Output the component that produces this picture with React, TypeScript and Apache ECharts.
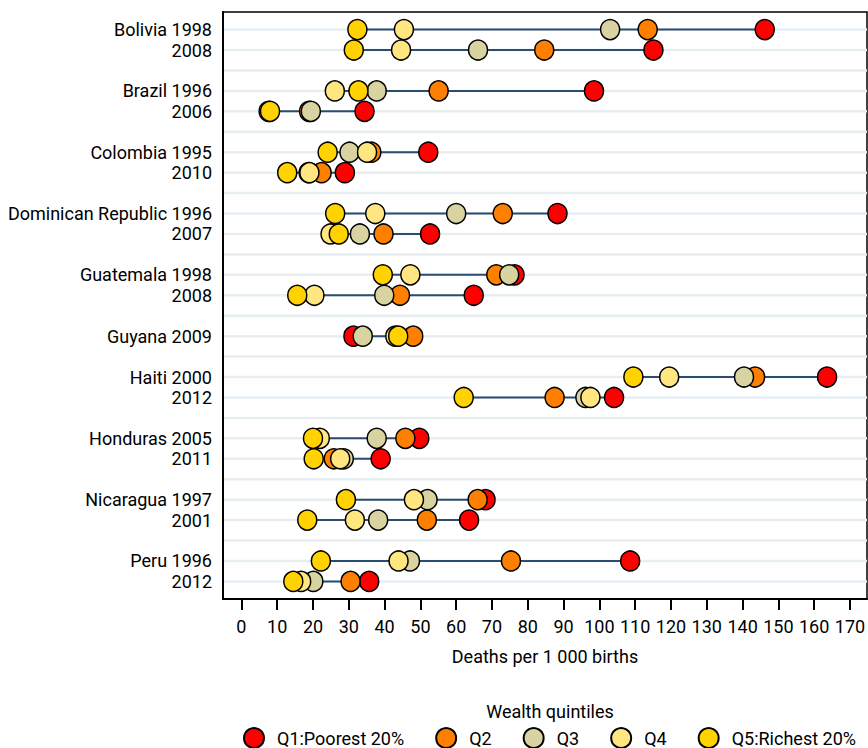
import React, { useEffect, useRef } from "react";
import * as echarts from "echarts";

// Row labels top to bottom; "" marks a spacer row between countries
const rowLabels: string[] = [
  "Bolivia 1998", "2008", "",
  "Brazil 1996", "2006", "",
  "Colombia 1995", "2010", "",
  "Dominican Republic 1996", "2007", "",
  "Guatemala 1998", "2008", "",
  "Guyana 2009", "",
  "Haiti 2000", "2012", "",
  "Honduras 2005", "2011", "",
  "Nicaragua 1997", "2001", "",
  "Peru 1996", "2012",
];

// Deaths per 1 000 births, one value per labelled row (top to bottom)
const q1Poorest = [146.2, 115.1, 98.5, 34.4, 52.2, 28.9, 88.3, 52.7, 76.3, 64.9, 31.3, 163.6, 104.1, 49.7, 38.9, 68.2, 63.6, 108.6, 35.7];
const q2 = [113.5, 84.6, 55.1, 18.9, 36.3, 22.4, 73.0, 39.7, 71.2, 44.3, 48.0, 143.5, 87.5, 45.8, 25.8, 66.0, 51.8, 75.3, 30.5];
const q3 = [103.0, 66.1, 37.8, 19.4, 30.2, 18.8, 60.0, 33.1, 74.8, 39.9, 33.9, 140.4, 96.1, 37.8, 28.6, 52.0, 38.2, 47.1, 20.1];
const q4 = [45.4, 44.6, 26.1, 7.6, 35.1, 19.0, 37.4, 24.9, 47.2, 20.4, 43.0, 119.5, 97.5, 21.9, 27.6, 48.2, 31.7, 43.9, 16.7];
const q5Richest = [32.4, 31.4, 32.7, 8.0, 24.1, 12.8, 26.2, 27.2, 39.5, 15.6, 43.8, 109.5, 62.1, 20.0, 20.2, 29.2, 18.4, 22.2, 14.5];

const seriesNames = ["Q1:Poorest 20%", "Q2", "Q3", "Q4", "Q5:Richest 20%"];
const seriesColors = ["#ff0000", "#ff8000", "#d8d3a0", "#ffe680", "#ffd200"];
const xTicks = [0, 10, 20, 30, 40, 50, 60, 70, 80, 90, 100, 110, 120, 130, 140, 150, 160, 170];

const FONT = "Roboto, 'Liberation Sans', sans-serif";
const FS = 18;

export default function App() {
  const ref = useRef<HTMLDivElement>(null);

  useEffect(() => {
    if (!ref.current) return;
    const chart = echarts.init(ref.current, undefined, { renderer: "svg" });

    const rowPositions: number[] = [];
    rowLabels.forEach((l, i) => {
      if (l !== "") rowPositions.push(i);
    });
    const allSeries = [q1Poorest, q2, q3, q4, q5Richest];

    const rangeData = rowPositions.map((pos, i) => {
      const vals = allSeries.map((s) => s[i]);
      return [Math.min(...vals), Math.max(...vals), pos];
    });
    const gridData = rowLabels.map((_, i) => [0, i]);

    const scatterSeries = allSeries.map((vals, k) => ({
      type: "scatter",
      name: seriesNames[k],
      z: 10 + k,
      symbol: "circle",
      symbolSize: [19, 20],
      itemStyle: {
        color: seriesColors[k],
        borderColor: "#000",
        borderWidth: 1.5,
        opacity: 1,
      },
      emphasis: { disabled: true },
      data: rowPositions.map((pos, i) => [vals[i], pos]),
    }));

    chart.setOption({
      animation: false,
      textStyle: { fontFamily: FONT },
      grid: {
        left: 223,
        right: 1,
        top: 12,
        bottom: 149,
        show: true,
        borderColor: "#000",
        borderWidth: 1.5,
        backgroundColor: "transparent",
        outerBoundsMode: "none",
        containLabel: false,
      },
      xAxis: {
        type: "value",
        min: -5.14,
        max: 174.76,
        name: "Deaths per 1 000 births",
        nameLocation: "middle",
        nameGap: 48,
        nameTextStyle: { fontFamily: FONT, fontSize: FS, color: "#000" },
        axisLine: { show: true, onZero: false, lineStyle: { color: "#000", width: 2 } },
        axisTick: { show: true, length: 11, lineStyle: { color: "#000", width: 2 }, customValues: xTicks },
        axisLabel: { customValues: xTicks, fontFamily: FONT, fontSize: FS, color: "#000", margin: 18 },
        splitLine: { show: false },
      },
      yAxis: {
        type: "value",
        inverse: true,
        min: -0.86,
        max: rowLabels.length - 1 + 0.86,
        axisLine: { show: true, onZero: false, lineStyle: { color: "#000", width: 2 } },
        axisTick: { show: false },
        axisLabel: {
          customValues: rowPositions,
          fontFamily: FONT,
          fontSize: FS,
          color: "#000",
          margin: 11,
          formatter: (v: number) => rowLabels[Math.round(v)] || "",
        },
        splitLine: { show: false },
      },
      title: {
        text: "Wealth quintiles",
        left: 550,
        top: 702,
        textAlign: "center",
        textStyle: { fontFamily: FONT, fontSize: FS, fontWeight: "normal", color: "#000" },
        padding: 0,
      },
      legend: {
        data: seriesNames,
        left: 243,
        top: 727,
        padding: 0,
        itemWidth: 36,
        itemHeight: 20,
        itemGap: 31,
        symbolKeepAspect: true,
        selectedMode: false,
        textStyle: { fontFamily: FONT, fontSize: FS, color: "#000" },
      },
      series: [
        {
          type: "custom",
          z: 1,
          silent: true,
          data: gridData,
          encode: { x: 0, y: 1 },
          renderItem: (params: any, api: any) => {
            const cs = params.coordSys;
            const y = api.coord([0, api.value(1)])[1];
            return {
              type: "line",
              shape: { x1: cs.x + 1, y1: y, x2: cs.x + cs.width, y2: y },
              style: { stroke: "#e6eef2", lineWidth: 2.5 },
            };
          },
        },
        {
          type: "custom",
          z: 2,
          silent: true,
          data: rangeData,
          encode: { x: [0, 1], y: 2 },
          renderItem: (params: any, api: any) => {
            const p1 = api.coord([api.value(0), api.value(2)]);
            const p2 = api.coord([api.value(1), api.value(2)]);
            return {
              type: "line",
              shape: { x1: p1[0], y1: p1[1], x2: p2[0], y2: p2[1] },
              style: { stroke: "#2d4d70", lineWidth: 2 },
            };
          },
        },
        ...scatterSeries,
      ],
    });

    return () => chart.dispose();
  }, []);

  return (
    <div
      ref={ref}
      style={{ position: "fixed", left: 0, top: 0, width: 868, height: 748, background: "#fff" }}
    />
  );
}
